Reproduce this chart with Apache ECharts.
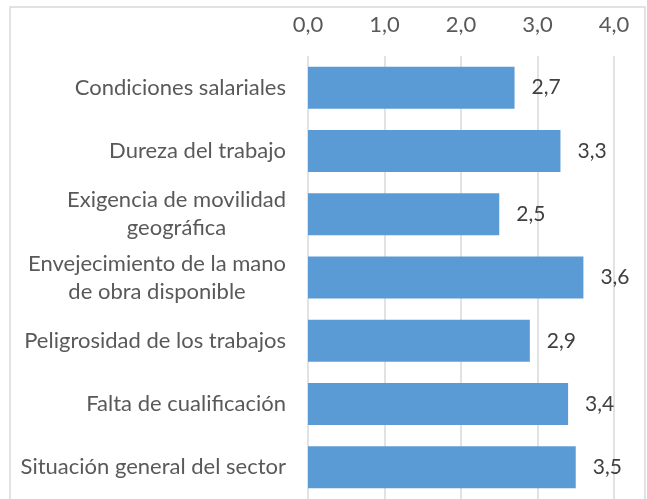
<!DOCTYPE html>
<html>
<head>
<meta charset="utf-8">
<script src="https://cdn.jsdelivr.net/npm/echarts@6/dist/echarts.min.js"></script>
<style>
  html, body { margin: 0; padding: 0; background: #fff; overflow: hidden; }
  #chart { width: 647px; height: 499px; }
</style>
</head>
<body>
<div id="chart"></div>
<script>
// factors, top to bottom
const factors = [
  'Condiciones salariales',
  'Dureza del trabajo',
  'Exigencia de movilidad\ngeográfica',
  'Envejecimiento de la mano\nde obra disponible',
  'Peligrosidad de los trabajos',
  'Falta de cualificación',
  'Situación general del sector'
];
const scores = [2.7, 3.3, 2.5, 3.6, 2.9, 3.4, 3.5];
const ticks = [0, 1, 2, 3, 4];

const fmt = v => v.toFixed(1).replace('.', ',');
const font = 'Lato, "Open Sans", sans-serif';

const chart = echarts.init(document.getElementById('chart'));

chart.setOption({
  backgroundColor: '#fff',
  animation: false,
  graphic: [{
    type: 'rect',
    shape: { x: 10, y: 7, width: 635, height: 600 },
    style: { fill: 'none', stroke: '#d9d9d9', lineWidth: 1.5 },
    silent: true
  }],
  grid: {
    left: 308,
    right: 33,
    top: 56,
    bottom: -3
  },
  xAxis: {
    type: 'value',
    position: 'top',
    min: ticks[0],
    max: ticks[ticks.length - 1],
    interval: 1,
    axisLine: { show: false },
    axisTick: { show: false },
    axisLabel: {
      margin: 20,
      fontSize: 22,
      fontFamily: font,
      color: '#595959',
      formatter: v => fmt(v)
    },
    splitLine: {
      lineStyle: { color: '#d9d9d9', width: 1.5 }
    }
  },
  yAxis: {
    type: 'category',
    inverse: true,
    data: factors,
    axisLine: { show: false },
    axisTick: { show: false },
    axisLabel: {
      margin: 22,
      fontSize: 22,
      fontFamily: font,
      color: '#595959',
      lineHeight: 28,
      formatter: v => v.split('\n').map(s => '{c|' + s + '}').join('\n'),
      rich: {
        c: { align: 'center', fontSize: 22, fontFamily: font, color: '#595959', lineHeight: 28 }
      }
    }
  },
  series: [{
    type: 'bar',
    data: scores,
    barWidth: 42,
    itemStyle: { color: '#5b9bd5' },
    label: {
      show: true,
      position: 'right',
      distance: 17,
      fontSize: 21,
      fontFamily: font,
      color: '#404040',
      formatter: p => fmt(p.value)
    }
  }]
});
</script>
</body>
</html>
